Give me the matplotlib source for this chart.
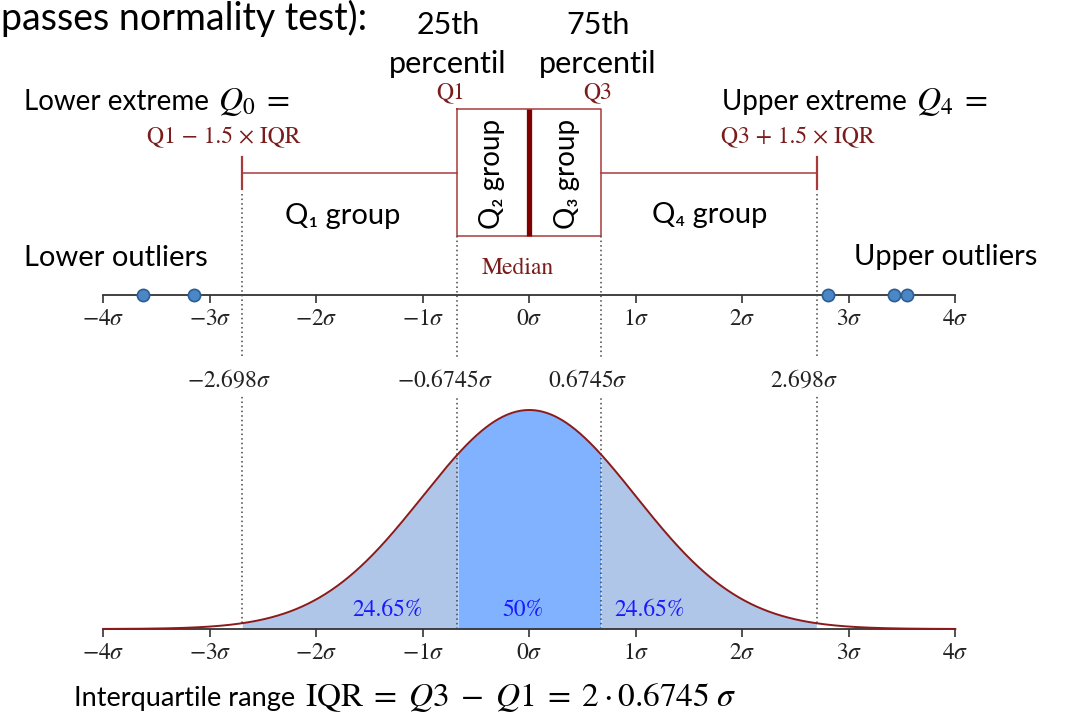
import numpy as np
import matplotlib
matplotlib.use("Agg")
import matplotlib.pyplot as plt

plt.rcParams['mathtext.fontset'] = 'stix'

SANS = ['Lato', 'DejaVu Sans']
SERIF = 'STIXGeneral'

# ---- values (in units of sigma) ----
q1, med, q3 = -0.6745, 0.0, 0.6745
whisker_lo, whisker_hi = -2.698, 2.698
outliers = [-3.63, -3.15, 2.80, 3.42, 3.55]
sigma_ticks = [-4, -3, -2, -1, 0, 1, 2, 3, 4]
tick_labels = [r'$-4\sigma$', r'$-3\sigma$', r'$-2\sigma$', r'$-1\sigma$', r'$0\sigma$',
               r'$1\sigma$', r'$2\sigma$', r'$3\sigma$', r'$4\sigma$']
marker_values = [whisker_lo, q1, q3, whisker_hi]
marker_labels = [r'$-2.698\sigma$', r'$-0.6745\sigma$', r'$0.6745\sigma$', r'$2.698\sigma$']
area_labels = ['24.65%', '50%', '24.65%']
area_label_x = [-1.33, -0.06, 1.13]

# ---- colours ----
BOX_RED = '#a83a3a'
MED_RED = '#800000'
TEXT_RED = '#7a1c1c'
CURVE_RED = '#8b1a1a'
OUTER_FILL = '#b0c6e8'
INNER_FILL = '#80b2ff'
DOT_FACE = '#4a87c6'
DOT_EDGE = '#2d5d92'
AXIS_GREY = '#333333'
DOT_LINE = '#444444'

W, H = 1066, 714
X_LO, X_HI = 103.3, 955.3           # -4σ and +4σ positions
PPS = (X_HI - X_LO) / 8.0           # pixels per sigma

fig = plt.figure(figsize=(W / 100, H / 100), dpi=100)


def pdf(x):
    return np.exp(-0.5 * np.asarray(x) ** 2) / np.sqrt(2 * np.pi)


def style_number_line(ax):
    for s in ['top', 'left', 'right']:
        ax.spines[s].set_visible(False)
    ax.patch.set_visible(False)
    ax.spines['bottom'].set_color(AXIS_GREY)
    ax.spines['bottom'].set_linewidth(1.3)
    ax.set_yticks([])
    ax.set_xlim(-4, 4)
    ax.set_xticks(sigma_ticks)
    ax.set_xticklabels(tick_labels, fontsize=17, color='#222222')
    ax.tick_params(axis='x', direction='out', length=6, width=1.2, color=AXIS_GREY, pad=2)


# ---- lower panel: normal density ----
BASE_Y, PEAK_Y, TOP_Y = 629, 410, 396
pdf_top = pdf(0) * (BASE_Y - TOP_Y) / (BASE_Y - PEAK_Y)
ax_pdf = fig.add_axes([X_LO / W, (H - BASE_Y) / H, (X_HI - X_LO) / W, (BASE_Y - TOP_Y) / H])
style_number_line(ax_pdf)
ax_pdf.set_ylim(0, pdf_top)

xs = np.linspace(-4, 4, 1601)
ys = pdf(xs)
outer_l = (xs >= whisker_lo) & (xs <= q1)
outer_r = (xs >= q3) & (xs <= whisker_hi)
inner = (xs >= q1) & (xs <= q3)
ax_pdf.fill_between(xs, 0, ys, where=outer_l, color=OUTER_FILL, lw=0)
ax_pdf.fill_between(xs, 0, ys, where=outer_r, color=OUTER_FILL, lw=0)
ax_pdf.fill_between(xs, 0, ys, where=inner, color=INNER_FILL, lw=0)
ax_pdf.plot(xs, ys, color=CURVE_RED, lw=1.4, zorder=4, clip_on=False)

for xv in marker_values:
    y0 = pdf(xv) / pdf_top if abs(xv) > 1.5 else 0.0
    ax_pdf.axvline(xv, ymin=y0, ymax=1, color=DOT_LINE, lw=1.1, ls=(0, (1, 2)), zorder=3)

for lab, xv in zip(area_labels, area_label_x):
    ax_pdf.annotate(lab, (xv, 0), xytext=(0, 13), textcoords='offset pixels',
                    fontsize=17, family=SERIF, color='#1a1aff',
                    ha='center', va='baseline', zorder=5)

# ---- upper panel: number line with outliers ----
LINE_Y = 294.7
ax_top = fig.add_axes([X_LO / W, (H - LINE_Y) / H, (X_HI - X_LO) / W, 10 / H])
style_number_line(ax_top)
ax_top.set_ylim(0, 1)
ax_top.plot(outliers, np.zeros(len(outliers)), 'o', ms=8.8, mfc=DOT_FACE, mec=DOT_EDGE,
            mew=1.2, clip_on=False, zorder=5)

# ---- overlay in sigma / pixel-row coordinates for the box plot ----
ax_box = fig.add_axes([0, 0, 1, 1])
ax_box.axis('off')
BOX_TOP, BOX_BOT = 109.3, 236.4
box_mid = (BOX_TOP + BOX_BOT) / 2
stats = [dict(med=med, q1=q1, q3=q3, whislo=whisker_lo, whishi=whisker_hi, fliers=[])]
ax_box.bxp(stats, positions=[box_mid], widths=BOX_BOT - BOX_TOP, capwidths=32,
           orientation='horizontal', showfliers=False, manage_ticks=False,
           boxprops=dict(color=BOX_RED, lw=1.1),
           whiskerprops=dict(color=BOX_RED, lw=1.1),
           capprops=dict(color=BOX_RED, lw=1.6),
           medianprops=dict(color=MED_RED, lw=3.8, solid_capstyle='butt'))
ax_box.set_xlim(-4 - X_LO / PPS, -4 + (W - X_LO) / PPS)
ax_box.set_ylim(H, 0)

# dotted guides from the box down to the label row
cap_bottom = box_mid + 16 + 5
for xv in marker_values:
    top = cap_bottom if abs(xv) > 1.5 else BOX_BOT
    ax_box.plot([xv, xv], [top, 357], color=DOT_LINE, lw=1.1, ls=(0, (1, 2)))
for lab, xv in zip(marker_labels, marker_values):
    ax_box.annotate(lab, (xv, 387), xytext=(-13, 0), textcoords='offset pixels',
                    fontsize=17, family=SERIF, color='#222222', ha='center', va='baseline')

# ---- pixel overlay for annotations ----
ax_px = fig.add_axes([0, 0, 1, 1])
ax_px.axis('off')
ax_px.set_xlim(0, W)
ax_px.set_ylim(H, 0)


def sans(x, y, s, size=21, **kw):
    return ax_px.text(x, y, s, fontsize=size, family=SANS, color='black', va='baseline', **kw)


def math_after(txt, s, size=24, gap=9):
    # math expression placed right after a text, sharing its baseline
    return ax_px.annotate(s, xy=(1, 0), xycoords=txt, xytext=(gap, 0),
                          textcoords='offset pixels', fontsize=size, color='black',
                          ha='left', va='bottom')


def serif(x, y, s, size=17, **kw):
    ax_px.text(x, y, s, fontsize=size, family=SERIF, color=TEXT_RED, va='baseline', **kw)


sans(1, 30, 'passes normality test):', size=27, ha='left')
sans(448, 34, '25th', size=22, ha='center')
sans(448, 73, 'percentil', size=22, ha='center')
sans(598, 34, '75th', size=22, ha='center')
sans(598, 73, 'percentil', size=22, ha='center')

t_lo = ax_px.text(24, 109.5, 'Lower extreme', fontsize=20, family=SANS, va='baseline')
t_hi = ax_px.text(722, 110, 'Upper extreme', fontsize=20, family=SANS, va='baseline')
fig.canvas.draw()
for t, s in [(t_lo, r'$Q_0\;=$'), (t_hi, r'$Q_4\;=$')]:
    bb = t.get_window_extent()
    x0, y0 = ax_px.transData.inverted().transform((bb.x1, 0))
    ax_px.text(x0 + 9, t.get_position()[1], s, fontsize=24, color='black',
               ha='left', va='baseline')

serif(451, 98, 'Q1', ha='center')
serif(598, 98, 'Q3', ha='center')
serif(224, 143, 'Q1 − 1.5 × IQR', ha='center')
serif(798, 143, 'Q3 + 1.5 × IQR', ha='center')
sans(343, 224, 'Q₁ group', ha='center')
sans(710, 223, 'Q₄ group', ha='center')
ax_px.text(492, 174, 'Q₂ group', fontsize=20, family=SANS, rotation=90,
           ha='center', va='center')
ax_px.text(567, 174, 'Q₃ group', fontsize=20, family=SANS, rotation=90,
           ha='center', va='center')
serif(518, 274, 'Median', ha='center')
sans(24, 266, 'Lower outliers', ha='left')
sans(1037, 265, 'Upper outliers', ha='right')

t_iqr = ax_px.text(74, 706, 'Interquartile range', fontsize=19.5, family=SANS, va='baseline')
fig.canvas.draw()
bb = t_iqr.get_window_extent()
x0, _ = ax_px.transData.inverted().transform((bb.x1, 0))
ax_px.text(x0 + 10, 706,
           r'$\mathrm{IQR} \;=\; Q3 \;-\; Q1 \;=\; 2 \cdot 0.6745\;\sigma$',
           fontsize=24, color='black', ha='left', va='baseline')

fig.savefig('out.png', dpi=100)
